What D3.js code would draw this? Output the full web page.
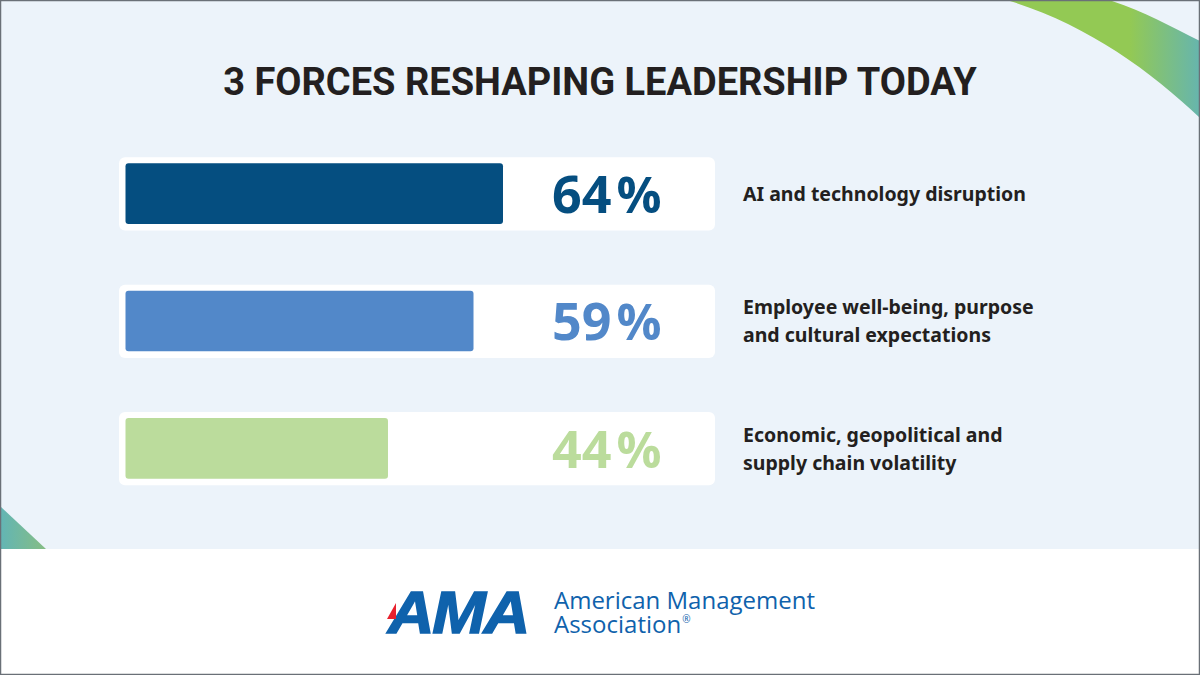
<!DOCTYPE html>
<html><head><meta charset="utf-8">
<script src="https://cdn.jsdelivr.net/npm/d3@7"></script>
<style>html,body{margin:0;padding:0;background:#fff;overflow:hidden}svg{display:block}</style>
</head><body>
<svg id="c" width="1200" height="675"></svg>
<script>
const titleText = "3 FORCES RESHAPING LEADERSHIP TODAY";
const values = [64, 59, 44.5];
const valueLabels = ["64", "59", "44"];
const categories = ["AI and technology disruption", "Employee well-being, purpose|and cultural expectations", "Economic, geopolitical and|supply chain volatility"];
const colors = ["#054e80", "#5288c9", "#bbdc9c"];
const logoLine1 = "American Management";
const logoLine2 = "Association";

const svg = d3.select("#c");
const defs = svg.append("defs");
const g1 = defs.append("linearGradient").attr("id","gr1").attr("gradientUnits","userSpaceOnUse")
  .attr("x1",1130).attr("y1",0).attr("x2",1200).attr("y2",0);
g1.append("stop").attr("offset",0).attr("stop-color","#93c954");
g1.append("stop").attr("offset",1).attr("stop-color","#66b5ae");
const g2 = defs.append("linearGradient").attr("id","gr2").attr("gradientUnits","userSpaceOnUse")
  .attr("x1",0).attr("y1",0).attr("x2",46).attr("y2",0);
g2.append("stop").attr("offset",0).attr("stop-color","#62b5b5");
g2.append("stop").attr("offset",1).attr("stop-color","#86bd84");

svg.append("rect").attr("width",1200).attr("height",549).attr("fill","#ecf3fa");
svg.append("rect").attr("y",549).attr("width",1200).attr("height",126).attr("fill","#ffffff");

svg.append("path").attr("d","M1010,1 C1085,24 1150,70 1200,118 L1200,41 C1170,26 1145,12 1112,1 Z").attr("fill","url(#gr1)");
svg.append("path").attr("d","M1,507 L46,549 L1,549 Z").attr("fill","url(#gr2)");

// frame
svg.append("rect").attr("x",0.5).attr("y",0.5).attr("width",1199).attr("height",674).attr("fill","none").attr("stroke","#6a7077").attr("stroke-width",1.5);

svg.append("text").attr("x",600).attr("y",94.5).attr("text-anchor","middle")
  .attr("font-family","Roboto").attr("font-weight",700).attr("font-size",38)
  .attr("fill","#231f20").text(titleText);

const x = d3.scaleLinear().domain([0,64]).range([125.5,503]);
const y = d3.scaleBand().domain(d3.range(values.length)).range([157,485]).paddingInner(0.74/(1+0.74)).paddingOuter(0);

const rows = svg.selectAll("g.row").data(values).join("g").attr("class","row")
  .attr("transform",(d,i)=>`translate(0,${y(i)})`);
const h = y.bandwidth();
rows.append("rect").attr("x",119).attr("y",0.3).attr("width",596).attr("height",h).attr("rx",6).attr("fill","#fff");
rows.append("rect").attr("x",x(0)).attr("y",6.3).attr("width",d=>x(d)-x(0)).attr("height",h-12.6).attr("rx",3).attr("fill",(d,i)=>colors[i]);
const nums = rows.append("text").attr("x",552).attr("y",h/2+19.5)
  .attr("font-family","Open Sans").attr("font-weight",700).attr("font-size",52)
  .attr("fill",(d,i)=>colors[i]);
nums.append("tspan").text((d,i)=>valueLabels[i]);
nums.append("tspan").attr("dx",5).attr("font-size",50).text("%");
rows.each(function(d,i){
  const lines = categories[i].split("|");
  const t = d3.select(this);
  lines.forEach((l,j)=>{
    t.append("text").attr("x",743).attr("y",h/2+7.5+(j-(lines.length-1)/2)*28)
      .attr("font-family","Noto Sans").attr("font-weight",700).attr("font-size",19.5)
      .attr("fill","#231f20").text(l);
  });
});

// logo
const logo = svg.append("g");
logo.append("text").attr("transform","translate(388,633) scale(1.09,1)").attr("font-family","Liberation Sans").attr("font-style","italic")
  .attr("font-weight",700).attr("font-size",59).attr("letter-spacing",-2).attr("fill","#0f62ac")
  .attr("stroke","#0f62ac").attr("stroke-width",1.5).text("AMA");
logo.append("path").attr("d","M387,619 L396,603 L396,619 Z").attr("fill","#e8212e");
logo.append("text").attr("x",554).attr("y",609).attr("font-family","Open Sans").attr("font-size",24)
  .attr("fill","#0f62ac").text(logoLine1);
const t2 = logo.append("text").attr("x",554).attr("y",633).attr("font-family","Open Sans").attr("font-size",24).attr("fill","#0f62ac");
t2.append("tspan").text(logoLine2);
t2.append("tspan").attr("font-size",10).attr("dy",-10).attr("dx",1).text("®");
</script>
</body></html>
